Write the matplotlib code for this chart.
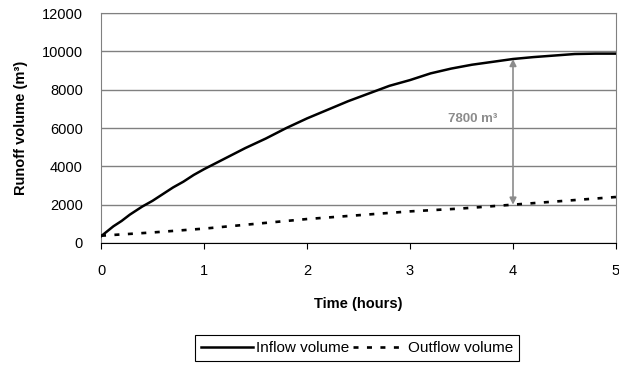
import matplotlib
matplotlib.use("Agg")
import matplotlib.pyplot as plt

plt.rcParams['font.family'] = ['Liberation Sans', 'DejaVu Sans']

t_in = [0, 0.12, 0.2, 0.28, 0.4, 0.5, 0.6, 0.7, 0.8, 0.9, 1.0, 1.2, 1.4, 1.6, 1.8, 2.0,
        2.2, 2.4, 2.6, 2.8, 3.0, 3.2, 3.4, 3.6, 3.8, 4.0, 4.2, 4.4, 4.6, 4.8, 5.0]
inflow = [350, 870, 1150, 1480, 1900, 2200, 2550, 2900, 3200, 3550, 3850, 4400, 4950,
          5450, 6000, 6500, 6950, 7400, 7800, 8200, 8500, 8850, 9100, 9300, 9450, 9600,
          9700, 9780, 9860, 9880, 9880]
t_out = [0, 0.5, 1.0, 1.5, 2.0, 2.5, 3.0, 3.5, 4.0, 4.5, 5.0]
outflow = [380, 550, 750, 1000, 1250, 1450, 1650, 1800, 2000, 2200, 2400]

arrow_x = 4
arrow_bottom = 2000
arrow_top = 9600
diff_label = "7800 m³"

FS = 10.5

fig = plt.figure(figsize=(6.19, 3.65), dpi=100)
ax = fig.add_axes([101/619, 1-243/365, (616-101)/619, (243-13)/365])

ax.plot(t_in, inflow, color='black', lw=1.8, label='Inflow volume', zorder=3)
ax.plot(t_out, outflow, color='black', lw=1.9, dashes=(1.9, 3.2), label='Outflow volume', zorder=3)

ax.annotate('', xy=(arrow_x, arrow_top), xytext=(arrow_x, arrow_bottom),
            arrowprops=dict(arrowstyle='<|-|>', color='#8c8c8c', lw=1.2,
                            mutation_scale=10, shrinkA=0, shrinkB=0), zorder=4)
ax.text(3.61, 6450, diff_label, color='#8c8c8c', fontsize=9.5, fontweight='bold',
        ha='center', va='center')

ax.set_xlim(0, 5)
ax.set_ylim(0, 12000)
ax.set_xticks(range(0, 6))
ax.set_yticks(range(0, 12001, 2000))
ax.yaxis.grid(True, color='#808080', lw=1)
ax.set_axisbelow(True)
for s in ['top', 'right', 'left']:
    ax.spines[s].set_color('#808080')
ax.spines['bottom'].set_color('black')
ax.tick_params(axis='y', length=0, labelsize=FS, pad=13)
ax.tick_params(axis='x', length=4, direction='out', labelsize=FS, pad=11, color='black')

ax.set_xlabel('Time (hours)', fontsize=FS, fontweight='bold', labelpad=14)
ax.set_ylabel('Runoff volume (m³)', fontsize=FS, fontweight='bold', labelpad=10)

leg = ax.legend(loc='center', bbox_to_anchor=(357/619, 1-348/365),
                bbox_transform=fig.transFigure, ncol=2, frameon=True, fancybox=False,
                edgecolor='black', fontsize=11, handlelength=3.4, handletextpad=0.2,
                columnspacing=0.2, borderpad=0.4, borderaxespad=0, framealpha=1)
leg.get_frame().set_linewidth(0.8)

fig.savefig('out.png', dpi=100)
